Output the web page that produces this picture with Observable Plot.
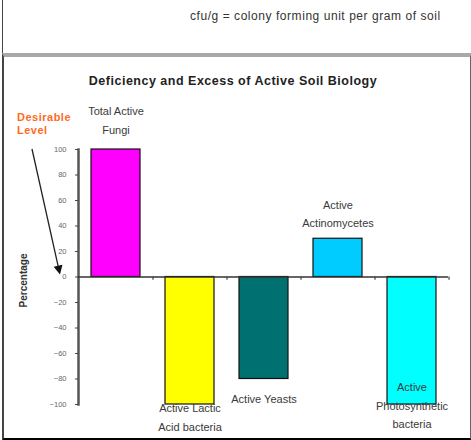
<!DOCTYPE html>
<html>
<head>
<meta charset="utf-8">
<script src="https://cdn.jsdelivr.net/npm/d3@7"></script>
<script src="https://cdn.jsdelivr.net/npm/@observablehq/plot@0.6"></script>
<style>
  html, body { margin: 0; padding: 0; background: #fff; }
  #wrap { position: relative; width: 471px; height: 440px; overflow: hidden; font-family: "Liberation Sans", Arial, sans-serif; }
  #wrap svg { position: absolute; left: 0; top: 0; }
  .caption { position: absolute; left: 190px; top: 9px; width: 275px; font-size: 12px; color: #333; white-space: nowrap; letter-spacing: 0.55px; }
  .leftline { position: absolute; left: 2px; top: 0; width: 1px; height: 56px; background: #444; }
  .box { position: absolute; left: 2px; top: 53px; width: 466px; height: 381px; border-top: 4px solid #a9a9a9; border-left: 2px solid #444; border-right: 2px solid #666; border-bottom: 3px solid #000; }
  .title { position: absolute; left: 0; width: 466px; top: 74px; text-align: center; font-size: 12.5px; font-weight: bold; color: #222; white-space: nowrap; letter-spacing: 0.5px; }
  .desirable { position: absolute; left: 17px; top: 111px; font-size: 11px; font-weight: bold; color: #ff6a1f; line-height: 13px; letter-spacing: 0.5px; }
</style>
</head>
<body>
<div id="wrap">
  <div class="caption">cfu/g = colony forming unit per gram of soil</div>
  <div class="leftline"></div>
  <div class="box"></div>
  <div class="title">Deficiency and Excess of Active Soil Biology</div>
  <div class="desirable">Desirable<br>Level</div>
</div>
<script>
const categories = ["Total Active Fungi", "Active Lactic Acid bacteria", "Active Yeasts", "Active Actinomycetes", "Active Photosynthetic bacteria"];
const labels = ["Total Active\nFungi", "Active Lactic\nAcid bacteria", "Active Yeasts", "Active\nActinomycetes", "Active\nPhotosynthetic\nbacteria"];
const values = [100, -100, -80, 30, -100];
const colors = ["#ff00ff", "#ffff00", "#007070", "#00ccff", "#00ffff"];
const yTicks = [100, 80, 60, 40, 20, 0, -20, -40, -60, -80, -100];
const yLabel = "Percentage";

const data = categories.map((c, i) => ({category: c, label: labels[i], value: values[i], color: colors[i]}));

const W = 471, H = 440;
const mL = 78, mR = 23, mT = 149, mB = 36;
const step = (W - mL - mR) / categories.length;

const labelFont = {fontSize: 11, lineHeight: 1.65, fill: "#3a3a3a", fontFamily: "Liberation Sans, Arial, sans-serif", style: {letterSpacing: "0.45px"}};
const only = name => d => d.category === name;

// Arrow from "Desirable Level" down to the zero level (annotation)
function desirableArrow(index, scales) {
  const g = d3.create("svg:g");
  const y0 = scales.y(100), y1 = scales.y(0) - 2;
  const x0 = mL - 46, x1 = mL - 18;
  const ang = Math.atan2(y1 - y0, x1 - x0);
  g.append("line").attr("x1", x0).attr("y1", y0).attr("x2", x1 - 6 * Math.cos(ang)).attr("y2", y1 - 6 * Math.sin(ang))
    .attr("stroke", "#222").attr("stroke-width", 1.3);
  const hl = 9, hw = 4.5;
  const bx = x1 - hl * Math.cos(ang), by = y1 - hl * Math.sin(ang);
  const px = -Math.sin(ang) * hw, py = Math.cos(ang) * hw;
  g.append("path").attr("d", `M${x1},${y1}L${bx + px},${by + py}L${bx - px},${by - py}Z`).attr("fill", "#111");
  return g.node();
}

const plot = Plot.plot({
  width: W, height: H,
  marginLeft: mL, marginRight: mR, marginTop: mT, marginBottom: mB,
  style: {background: "transparent", fontFamily: "Liberation Sans, Arial, sans-serif", overflow: "visible"},
  x: {domain: categories, paddingInner: 0.34, paddingOuter: 0.17, axis: null},
  y: {domain: [-100, 100], axis: null},
  marks: [
    Plot.barY(data, {x: "category", y: "value", fill: "color", stroke: "#111", strokeWidth: 1.2}),
    Plot.frame({anchor: "left", stroke: "#555", strokeWidth: 2.5}),
    Plot.axisY({ticks: yTicks, tickSize: 3, tickPadding: 9, fontSize: 7.5, fill: "#666", stroke: "#444", label: null}),
    Plot.ruleY([0], {stroke: "#333", strokeWidth: 1.6}),
    Plot.ruleX(categories, {x: d => d, y1: 0, y2: -2.5, dx: step / 2, stroke: "#444", strokeWidth: 1.2}),
    Plot.text([yLabel], {text: d => d, frameAnchor: "left", textAnchor: "middle", rotate: -90, dx: -55, dy: 3.5, fontSize: 10, fontWeight: "bold", fill: "#333", style: {letterSpacing: "2px"}}),
    Plot.text(data, {filter: only(categories[0]), x: "category", y: "value", text: "label", lineAnchor: "bottom", dy: -16, ...labelFont}),
    Plot.text(data, {filter: only(categories[1]), x: "category", y: "value", text: "label", lineAnchor: "top", dy: -5, ...labelFont}),
    Plot.text(data, {filter: only(categories[2]), x: "category", y: "value", text: "label", lineAnchor: "top", dy: 11, ...labelFont}),
    Plot.text(data, {filter: only(categories[3]), x: "category", y: "value", text: "label", lineAnchor: "bottom", dy: -12, ...labelFont}),
    Plot.text(data, {filter: only(categories[4]), x: "category", y: "value", text: "label", lineAnchor: "top", dy: -26, ...labelFont}),
    desirableArrow
  ]
});
document.getElementById("wrap").appendChild(plot);
</script>
</body>
</html>
